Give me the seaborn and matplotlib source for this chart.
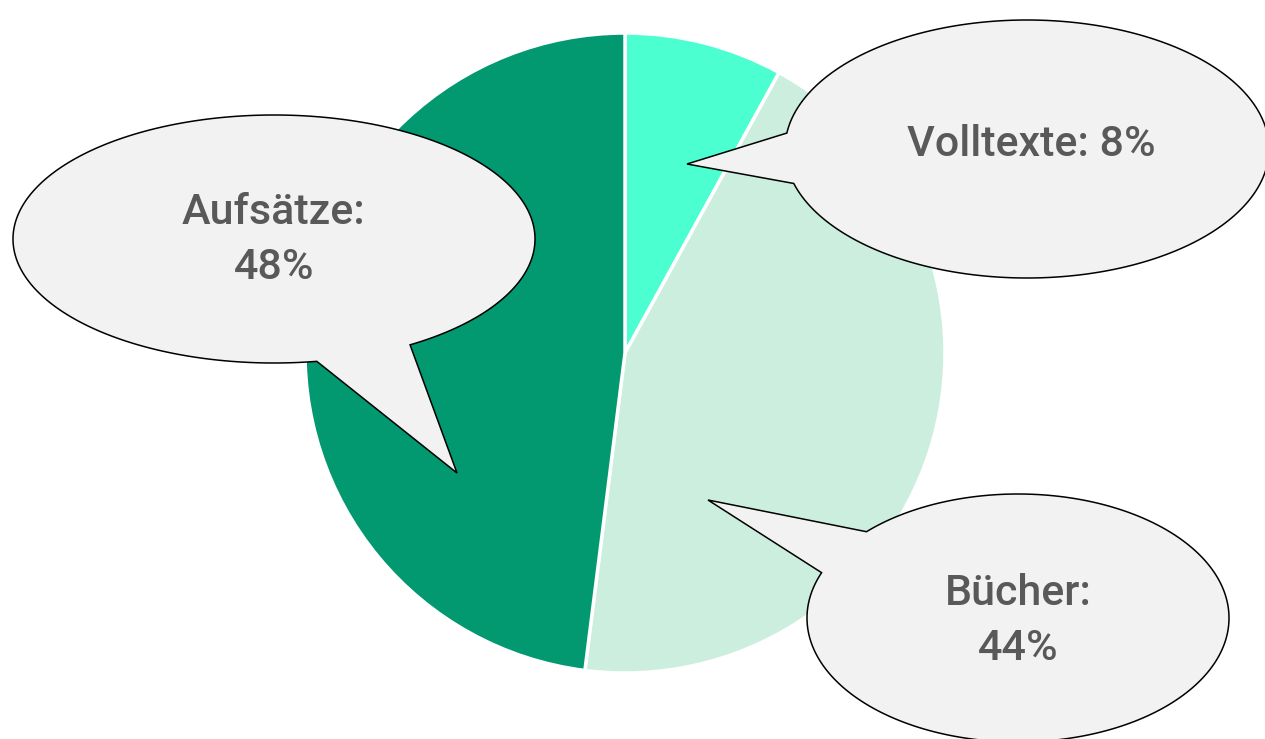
import numpy as np
import matplotlib
matplotlib.use("Agg")
import matplotlib.pyplot as plt
from matplotlib.patches import Polygon
import seaborn as sns

# ---- data ----
categories = ["Volltexte", "Bücher", "Aufsätze"]
shares = [8, 44, 48]
colors = ["#4BFFD1", "#CCEEDE", "#029870"]
label_texts = ["Volltexte: 8%", "Bücher:\n44%", "Aufsätze:\n48%"]

sns.set_theme(style="white")
plt.rcParams["font.family"] = ["Roboto", "DejaVu Sans"]

W, H = 1265, 739
fig = plt.figure(figsize=(W / 100, H / 100), dpi=100)
ax = fig.add_axes([0, 0, 1, 1])
ax.set_xlim(0, W)
ax.set_ylim(0, H)
ax.set_aspect("equal")
ax.axis("off")


def Y(y):
    return H - y


# pie
cx, cy, R = 625, 353, 320
ax.pie(shares, colors=colors, startangle=90, counterclock=False,
       center=(cx, Y(cy)), radius=R, frame=True,
       wedgeprops=dict(edgecolor="white", linewidth=2.5))
ax.set_xlim(0, W)
ax.set_ylim(0, H)
ax.axis("off")

# callout layout (screen px): ellipse centre, semi-axes, tail base 1, tip, tail base 2, text pos
callouts = {
    "Volltexte": dict(c=(1027, 149), a=242, b=129, b1=(786, 133), tip=(687, 164), b2=(797, 183), t=(1031, 145)),
    "Bücher": dict(c=(1018, 618), a=211, b=124, b1=(867, 532), tip=(708, 500), b2=(823, 573), t=(1018, 621)),
    "Aufsätze": dict(c=(274, 239), a=261, b=124, b1=(409, 344), tip=(457, 473), b2=(317, 362), t=(274, 240)),
}


def bubble(c, a, b, b1, tip, b2):
    ex, ey = c
    t1 = np.arctan2((b1[1] - ey) / b, (b1[0] - ex) / a)
    t2 = np.arctan2((b2[1] - ey) / b, (b2[0] - ex) / a)
    tt = np.arctan2((tip[1] - ey) / b, (tip[0] - ex) / a)
    d = (t2 - t1) % (2 * np.pi)
    dtip = (tt - t1) % (2 * np.pi)
    if dtip < d:
        d = d - 2 * np.pi
    ts = t1 + np.linspace(0, d, 400)
    pts = [(tip[0], tip[1])]
    pts += [(ex + a * np.cos(t), ey + b * np.sin(t)) for t in ts]
    pts.append((tip[0], tip[1]))
    return np.array([(x, Y(y)) for x, y in pts])


for cat, txt in zip(categories, label_texts):
    p = callouts[cat]
    poly = Polygon(bubble(p["c"], p["a"], p["b"], p["b1"], p["tip"], p["b2"]),
                   closed=True, facecolor="#F2F2F2", edgecolor="black",
                   linewidth=1.1, zorder=5)
    ax.add_patch(poly)
    ax.text(p["t"][0], Y(p["t"][1]), txt, ha="center", va="center",
            fontsize=31, fontweight="medium", color="#595959",
            linespacing=1.42, zorder=6)

fig.savefig("out.png", dpi=100)
